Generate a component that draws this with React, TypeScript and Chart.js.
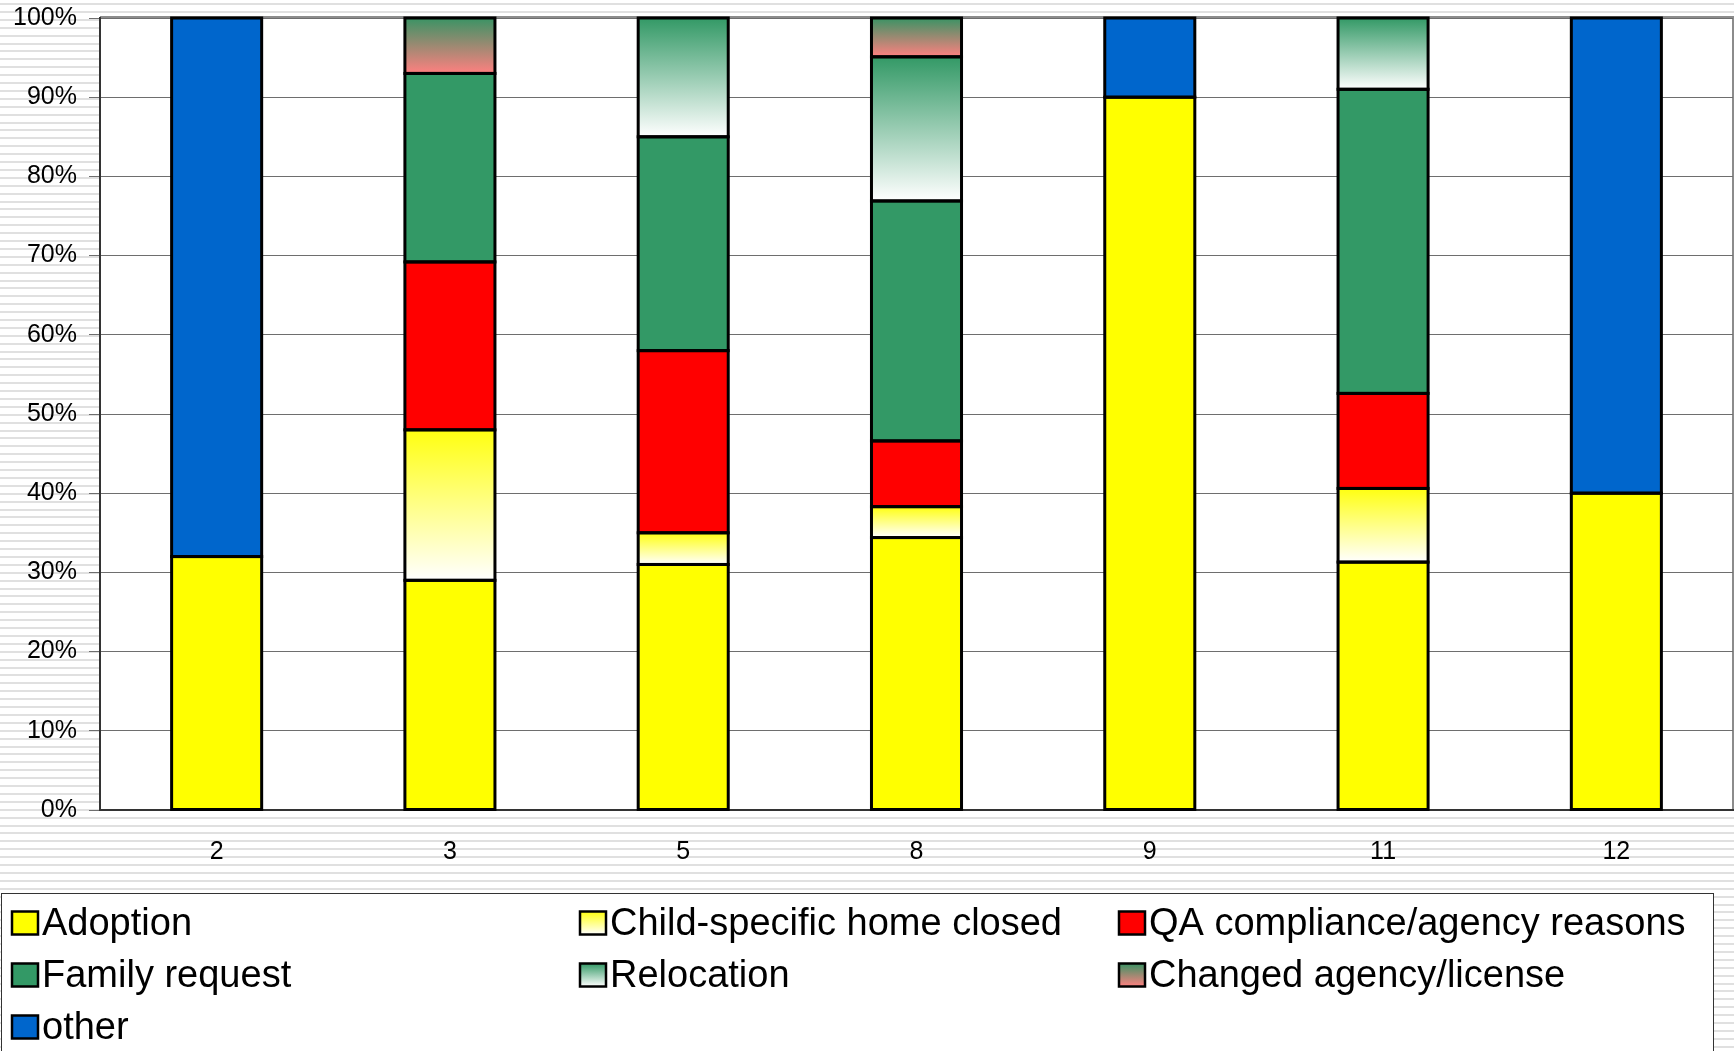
import React, { useEffect, useRef } from "react";
import { Chart, registerables } from "chart.js";

Chart.register(...registerables);

const categories = ["2", "3", "5", "8", "9", "11", "12"];
const adoption = [32, 29, 31, 34.4, 90, 31.3, 40];
const childSpecific = [null, 19, 4, 3.9, null, 9.3, null];
const qaCompliance = [null, 21.2, 23, 8.3, null, 12.0, null];
const familyRequest = [null, 23.8, 27, 30.3, null, 38.4, null];
const relocation = [null, null, 15, 18.2, null, 9.0, null];
const changedAgency = [null, 7, null, 4.9, null, null, null];
const other = [68, null, null, null, 10, null, 60];
const yTicks = [0, 10, 20, 30, 40, 50, 60, 70, 80, 90, 100];

const FONT = "'Liberation Sans', Arial, sans-serif";

type Spec = { label: string; data: (number | null)[]; solid?: string; grad?: [string, string] };

const series: Spec[] = [
  { label: "Adoption", data: adoption, solid: "#FFFF00" },
  { label: "Child-specific home closed", data: childSpecific, grad: ["#FFFF10", "#FFFFFF"] },
  { label: "QA compliance/agency reasons", data: qaCompliance, solid: "#FF0000" },
  { label: "Family request", data: familyRequest, solid: "#339966" },
  { label: "Relocation", data: relocation, grad: ["#339966", "#FFFFFF"] },
  { label: "Changed agency/license", data: changedAgency, grad: ["#3A9364", "#FF8080"] },
  { label: "other", data: other, solid: "#0066CC" },
];

const legendOrder = [
  [0, 1, 2],
  [3, 4, 5],
  [6],
];

export default function App() {
  const ref = useRef<HTMLCanvasElement | null>(null);
  useEffect(() => {
    document.body.style.margin = "0";
    const canvas = ref.current!;
    const bgPlugin = {
      id: "bg",
      beforeDraw(chart: any) {
        const { ctx, width, height, chartArea } = chart;
        ctx.save();
        ctx.fillStyle = "#FFFFFF";
        ctx.fillRect(0, 0, width, height);
        ctx.fillStyle = "#E0E0E0";
        for (let y = 3; y < height; y += 7.9) {
          ctx.fillRect(0, Math.round(y), width, 2);
        }
        ctx.fillStyle = "#FFFFFF";
        ctx.fillRect(chartArea.left, chartArea.top, chartArea.right - chartArea.left, chartArea.bottom - chartArea.top);
        ctx.strokeStyle = "#8C8C8C";
        ctx.lineWidth = 2;
        ctx.beginPath();
        ctx.moveTo(chartArea.left, chartArea.top - 1);
        ctx.lineTo(chartArea.right + 0, chartArea.top - 1);
        ctx.lineTo(chartArea.right + 0, chartArea.bottom);
        ctx.stroke();
        ctx.restore();
      },
      beforeDatasetsDraw(chart: any) {
        const ctx = chart.ctx;
        series.forEach((s, i) => {
          if (!s.grad) return;
          const meta = chart.getDatasetMeta(i);
          meta.data.forEach((el: any) => {
            if (!el || el.y == null || el.base == null || isNaN(el.y)) return;
            const top = Math.min(el.y, el.base);
            const bot = Math.max(el.y, el.base);
            const g = ctx.createLinearGradient(0, top, 0, bot);
            g.addColorStop(0, s.grad![0]);
            g.addColorStop(1, s.grad![1]);
            el.options = Object.assign({}, el.options, { backgroundColor: g });
          });
        });
      },
      afterDatasetsDraw(chart: any) {
        const ctx = chart.ctx;
        ctx.save();
        ctx.strokeStyle = "#000000";
        ctx.lineWidth = 3;
        series.forEach((s, i) => {
          const meta = chart.getDatasetMeta(i);
          meta.data.forEach((el: any, j: number) => {
            if (s.data[j] == null || !el || isNaN(el.y)) return;
            const top = Math.min(el.y, el.base);
            const bot = Math.max(el.y, el.base);
            const left = el.x - el.width / 2;
            ctx.strokeRect(left, top, el.width, bot - top);
          });
        });
        ctx.restore();
      },
      afterDraw(chart: any) {
        const { ctx } = chart;
        ctx.save();
        // legend box
        ctx.fillStyle = "#FFFFFF";
        ctx.fillRect(1, 893, 1712, 170);
        ctx.strokeStyle = "#333333";
        ctx.lineWidth = 1;
        ctx.strokeRect(1.5, 893.5, 1712, 170);
        const colX = [12, 580, 1119];
        const rowY = [923, 975, 1027];
        ctx.font = `38px ${FONT}`;
        ctx.textBaseline = "middle";
        ctx.textAlign = "left";
        legendOrder.forEach((row, r) => {
          row.forEach((idx, c) => {
            const s = series[idx];
            const x = colX[c];
            const y = rowY[r];
            const mw = 26, mh = 23;
            const mx = x, my = y - mh / 2;
            if (s.grad) {
              const g = ctx.createLinearGradient(0, my, 0, my + mh);
              g.addColorStop(0, s.grad[0]);
              g.addColorStop(1, s.grad[1]);
              ctx.fillStyle = g;
            } else {
              ctx.fillStyle = s.solid!;
            }
            ctx.fillRect(mx, my, mw, mh);
            ctx.strokeStyle = "#000000";
            ctx.lineWidth = 2.5;
            ctx.strokeRect(mx, my, mw, mh);
            ctx.fillStyle = "#000000";
            ctx.fillText(s.label, x + 30, y + 2);
          });
        });
        ctx.restore();
      },
    };

    const chart = new Chart(canvas, {
      type: "bar",
      data: {
        labels: categories,
        datasets: series.map((s) => ({
          label: s.label,
          data: s.data,
          backgroundColor: s.solid ?? s.grad![0],
          borderWidth: 0,
          categoryPercentage: 1,
          barPercentage: 0.386,
        })),
      },
      options: {
        animation: false,
        responsive: false,
        devicePixelRatio: 1,
        layout: { padding: { top: 18, right: 1, left: 0, bottom: 0 } },
        plugins: { legend: { display: false }, tooltip: { enabled: false } },
        scales: {
          x: {
            stacked: true,
            grid: { display: false },
            border: { display: true, color: "#333333", width: 2 },
            ticks: { color: "#000000", font: { family: FONT, size: 25 }, padding: 19 },
            afterFit: (scale: any) => {
              scale.height = 241;
              scale.paddingLeft = 0;
              scale.paddingRight = 0;
            },
          },
          y: {
            stacked: true,
            min: 0,
            max: 100,
            afterBuildTicks: (scale: any) => {
              scale.ticks = yTicks.map((v) => ({ value: v }));
            },
            grid: { color: "#6E6E6E", lineWidth: 1, tickLength: 11, drawTicks: true, tickColor: "#6E6E6E" },
            border: { display: true, color: "#333333", width: 2 },
            ticks: {
              color: "#000000",
              font: { family: FONT, size: 25 },
              padding: 12,
              callback: (v: any) => `${v}%`,
            },
            afterFit: (scale: any) => {
              scale.width = 100;
              scale.paddingTop = 0;
              scale.paddingBottom = 0;
            },
          },
        },
      },
      plugins: [bgPlugin],
    });
    return () => chart.destroy();
  }, []);
  return (
    <div style={{ position: "absolute", left: 0, top: 0, width: 1734, height: 1051 }}>
      <canvas ref={ref} width={1734} height={1051} style={{ width: 1734, height: 1051, display: "block" }} />
    </div>
  );
}
